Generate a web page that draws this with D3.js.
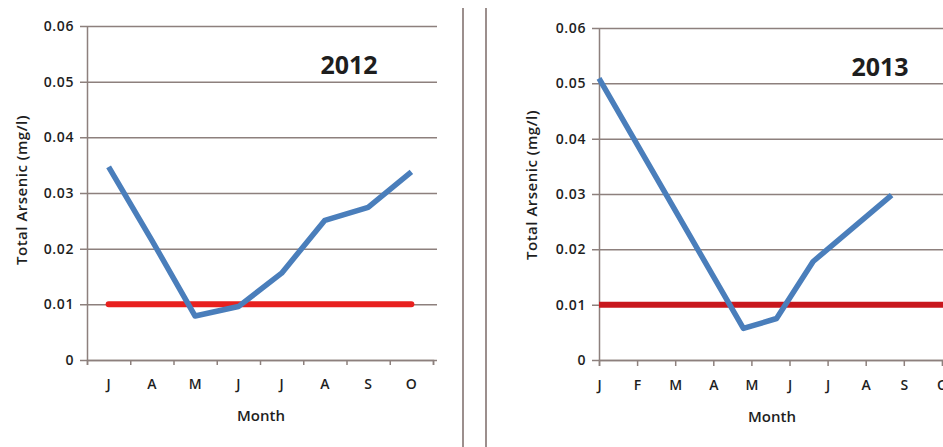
<!DOCTYPE html>
<html>
<head>
<meta charset="utf-8">
<script src="https://cdn.jsdelivr.net/npm/d3@7"></script>
<style>
  body { margin: 0; background: #fff; }
  svg text { font-family: "Open Sans", sans-serif; fill: #1e1e1e; }
</style>
</head>
<body>
<script>
// 2012 panel: one sample per month label (category axis)
var months2012 = ["J", "A", "M", "J", "J", "A", "S", "O"];
var arsenic2012 = [0.0347, 0.0215, 0.0079, 0.0096, 0.0156, 0.0251, 0.0274, 0.0338];

// 2013 panel: month axis, samples fall between the month ticks
var months2013 = ["J", "F", "M", "A", "M", "J", "J", "A", "S", "O"];
var samplePos2013 = [0, 3.79, 4.66, 5.62, 7.68];
var arsenic2013 = [0.0509, 0.0057, 0.0075, 0.0178, 0.0298];

var yTicks = [0, 0.01, 0.02, 0.03, 0.04, 0.05, 0.06];
var limit = 0.01;   // drinking water standard

var width = 943, height = 447;
var gridColor = "#8d807d";

var svg = d3.select("body").append("svg")
    .attr("width", width)
    .attr("height", height);

// separator between the two panels
[463, 486].forEach(function (x) {
    svg.append("line")
        .attr("x1", x).attr("x2", x)
        .attr("y1", 8).attr("y2", height)
        .attr("stroke", "#9c8f8d")
        .attr("stroke-width", 2);
});

function yAxisParts(g, y, left, right, labelX) {
    // gridlines
    g.append("g")
        .attr("transform", "translate(" + (left - 7) + ",0)")
        .call(d3.axisRight(y).tickValues(yTicks).tickSize(right - left + 9).tickFormat(""))
        .call(function (a) { a.select(".domain").remove(); })
        .selectAll("line").attr("stroke", gridColor).attr("stroke-width", 1.5);

    // y axis line + labels
    var ax = g.append("g")
        .attr("transform", "translate(" + left + ",0)")
        .call(d3.axisLeft(y).tickValues(yTicks).tickSize(0).tickPadding(left - labelX)
            .tickFormat(function (d) { return d === 0 ? "0" : d3.format(".2f")(d); }));
    ax.select(".domain").attr("stroke", gridColor).attr("stroke-width", 1.5);
    ax.selectAll("text").style("font-size", "14px").style("font-weight", 600)
        .attr("letter-spacing", "0.6px").attr("fill", "#1e1e1e");
}

function yTitle(g, x, yc) {
    g.append("text")
        .attr("transform", "translate(" + x + "," + yc + ") rotate(-90)")
        .attr("text-anchor", "middle")
        .attr("dy", "0.35em")
        .style("font-size", "15px")
        .style("font-weight", 600)
        .attr("letter-spacing", "0.5px")
        .text("Total Arsenic (mg/l)");
}

// ---------------- 2012 ----------------
var gL = svg.append("g");
var xL = d3.scaleBand().domain(d3.range(months2012.length)).range([87, 433]);
var xLedge = d3.scaleLinear().domain([0, months2012.length]).range([87, 433]);
var yL = d3.scaleLinear().domain([0, 0.06]).range([360, 26]);

yAxisParts(gL, yL, 87, 435, 74);

// category boundary ticks
var axL = gL.append("g")
    .attr("transform", "translate(0,360)")
    .call(d3.axisBottom(xLedge).tickValues(d3.range(months2012.length + 1)).tickSize(5).tickFormat(""));
axL.select(".domain").attr("stroke", gridColor).attr("stroke-width", 1.5);
axL.selectAll("line").attr("stroke", gridColor).attr("stroke-width", 1.5);

var labL = gL.append("g")
    .attr("transform", "translate(0,360)")
    .call(d3.axisBottom(xL).tickSize(0).tickPadding(19).tickFormat(function (i) { return months2012[i]; }));
labL.select(".domain").remove();
labL.selectAll("text").style("font-size", "14px").style("font-weight", 600).attr("fill", "#1e1e1e");

gL.append("text")
    .attr("x", (87 + 433) / 2 + 1).attr("y", 421)
    .attr("text-anchor", "middle")
    .style("font-size", "15px").style("font-weight", 600)
    .text("Month");

yTitle(gL, 22, 190);

gL.append("line")
    .attr("x1", xL(0) + xL.bandwidth() / 2)
    .attr("x2", xL(months2012.length - 1) + xL.bandwidth() / 2)
    .attr("y1", yL(limit)).attr("y2", yL(limit))
    .attr("stroke", "#e8201e").attr("stroke-width", 6).attr("stroke-linecap", "round");

gL.append("path")
    .datum(arsenic2012)
    .attr("fill", "none")
    .attr("stroke", "#4a7ebb")
    .attr("stroke-width", 5.5)
    .attr("stroke-linejoin", "round")
    .attr("d", d3.line()
        .x(function (d, i) { return xL(i) + xL.bandwidth() / 2; })
        .y(function (d) { return yL(d); }));

gL.append("text")
    .attr("x", 349).attr("y", 74)
    .attr("text-anchor", "middle")
    .style("font-size", "25px").style("font-weight", 700)
    .text("2012");

// ---------------- 2013 ----------------
var gR = svg.append("g");
var xR = d3.scaleLinear().domain([0, 10]).range([599, 980]);
var yR = d3.scaleLinear().domain([0, 0.06]).range([360, 28]);

yAxisParts(gR, yR, 599, 990, 586);

var axR = gR.append("g")
    .attr("transform", "translate(0,360)")
    .call(d3.axisBottom(xR).tickValues(d3.range(months2013.length)).tickSize(6).tickPadding(14)
        .tickFormat(function (i) { return months2013[i]; }));
axR.select(".domain").attr("stroke", gridColor).attr("stroke-width", 1.5);
axR.selectAll("line").attr("stroke", gridColor).attr("stroke-width", 1.5);
axR.selectAll("text").style("font-size", "14px").style("font-weight", 600).attr("fill", "#1e1e1e");

gR.append("text")
    .attr("x", 772).attr("y", 422)
    .attr("text-anchor", "middle")
    .style("font-size", "15px").style("font-weight", 600)
    .text("Month");

yTitle(gR, 532, 185);

gR.append("line")
    .attr("x1", xR(0)).attr("x2", xR(10))
    .attr("y1", yR(limit)).attr("y2", yR(limit))
    .attr("stroke", "#c8171d").attr("stroke-width", 6);

gR.append("path")
    .datum(samplePos2013.map(function (p, i) { return [p, arsenic2013[i]]; }))
    .attr("fill", "none")
    .attr("stroke", "#4a7ebb")
    .attr("stroke-width", 5.5)
    .attr("stroke-linejoin", "round")
    .attr("d", d3.line()
        .x(function (d) { return xR(d[0]); })
        .y(function (d) { return yR(d[1]); }));

gR.append("text")
    .attr("x", 880).attr("y", 76)
    .attr("text-anchor", "middle")
    .style("font-size", "25px").style("font-weight", 700)
    .text("2013");
</script>
</body>
</html>
